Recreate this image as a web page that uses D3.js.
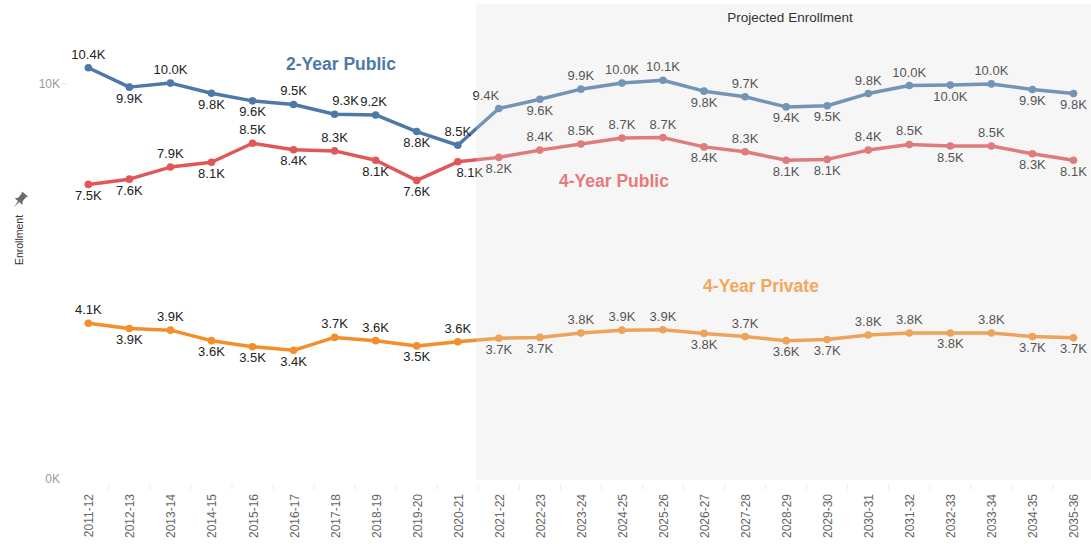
<!DOCTYPE html>
<html>
<head>
<meta charset="utf-8">
<script src="https://cdn.jsdelivr.net/npm/d3@7/dist/d3.min.js"></script>
<style>
  html, body { margin: 0; padding: 0; background: #ffffff; }
  svg { display: block; font-family: Arial, "Liberation Sans", sans-serif; }
</style>
</head>
<body>
<svg id="chart" width="1091" height="544"></svg>
<script>
// ---------- DATA ----------
const categories = ["2011-12","2012-13","2013-14","2014-15","2015-16","2016-17","2017-18","2018-19","2019-20","2020-21",
  "2021-22","2022-23","2023-24","2024-25","2025-26","2026-27","2027-28","2028-29","2029-30","2030-31",
  "2031-32","2032-33","2033-34","2034-35","2035-36"];
const firstProjected = "2021-22";

const twoYearPublic = [10400,9920,10020,9770,9580,9490,9250,9230,8820,8480,
  9390,9620,9870,10020,10090,9820,9680,9430,9460,9760,9960,9970,10000,9860,9760];
const fourYearPublic = [7510,7640,7940,8060,8530,8370,8340,8110,7610,8070,
  8180,8360,8510,8660,8670,8440,8320,8110,8130,8360,8500,8460,8460,8270,8110];
const fourYearPrivate = [4070,3940,3900,3640,3490,3400,3720,3640,3510,3610,
  3700,3720,3830,3900,3910,3820,3740,3640,3670,3780,3830,3830,3830,3740,3710];

// label placement: a = above the point, b = below
const twoYearPublicLabelPos = ["a","b","a","b","b","a","a","a","b","a",
  "a","b","a","a","a","b","a","b","b","a","a","b","a","b","b"];
const fourYearPublicLabelPos = ["b","b","a","b","a","b","a","b","b","b",
  "b","a","a","a","a","b","a","b","b","a","a","b","a","b","b"];
const fourYearPrivateLabelPos = ["a","b","a","b","b","b","a","a","b","a",
  "b","b","a","a","a","b","a","b","b","a","a","b","a","b","b"];
// sideways nudges of crowded labels (in label widths' share, index -> shift)
const twoYearPublicLabelShift = {6: 11, 7: -2, 10: -13};
const fourYearPublicLabelShift = {9: 12};
const fourYearPrivateLabelShift = {};

const yTickValues = [0, 10000];
const seriesNames = ["2-Year Public", "4-Year Public", "4-Year Private"];
const axisTitle = "Enrollment";
const bandTitle = "Projected Enrollment";

// ---------- LAYOUT ----------
const svg = d3.select("#chart");
const W = 1091, H = 544;
const x = d3.scaleBand().domain(categories).range([67.8, 1094]).padding(0);
const cx = d => x(d) + x.bandwidth() / 2;
const y = d3.scaleLinear().domain([0, 10000]).range([487.6, 83.9]);

const series = [
  { name: seriesNames[0], values: twoYearPublic, pos: twoYearPublicLabelPos, shift: twoYearPublicLabelShift, color: "#4e79a7",
    title: { x: 341, y: 64, color: "#4e79a7" } },
  { name: seriesNames[1], values: fourYearPublic, pos: fourYearPublicLabelPos, shift: fourYearPublicLabelShift, color: "#e15759",
    title: { x: 614, y: 181, color: "#e8797b" } },
  { name: seriesNames[2], values: fourYearPrivate, pos: fourYearPrivateLabelPos, shift: fourYearPrivateLabelShift, color: "#f28e2b",
    title: { x: 761, y: 286, color: "#f4a65c" } }
];

const fmt = v => (Math.round(v / 100) / 10).toFixed(1) + "K";

// ---------- AXES ----------
const yAxis = svg.append("g").attr("transform", "translate(60,0)")
  .call(d3.axisLeft(y).tickValues(yTickValues).tickSize(0).tickPadding(0).tickFormat(d => (d / 1000) + "K"));
yAxis.select(".domain").remove();
yAxis.selectAll("text").attr("fill", "#9a9a9a").style("font-size", "12px").attr("font-family", "Arial, 'Liberation Sans', sans-serif");
yAxis.selectAll(".tick").filter(d => d === 0).select("text").attr("dy", "-0.45em");

svg.append("g").selectAll("line").data(yTickValues.filter(d => d !== 0)).join("line")
  .attr("x1", 62).attr("x2", 67).attr("y1", d => y(d)).attr("y2", d => y(d))
  .attr("stroke", "#e2e2e2").attr("stroke-width", 1);

// axis title + pin icon
svg.append("text")
  .attr("transform", "translate(23,240) rotate(-90)")
  .attr("text-anchor", "middle")
  .attr("fill", "#333")
  .style("font-size", "10.5px")
  .text(axisTitle);
svg.append("path")
  .attr("transform", "translate(20,200) rotate(40) scale(1.3)")
  .attr("d", "M-3,-6 L3,-6 L2.2,-4.6 L2.2,-0.5 L4,1.6 L-4,1.6 L-2.2,-0.5 L-2.2,-4.6 Z M-0.6,1.6 L0.6,1.6 L0,7 Z")
  .attr("fill", "#6b6b6b");

// x axis: faint band separators and rotated labels
svg.append("g").selectAll("line").data(categories.slice(1)).join("line")
  .attr("x1", d => x(d)).attr("x2", d => x(d)).attr("y1", 484).attr("y2", 490)
  .attr("stroke", "#ececec").attr("stroke-width", 1);
svg.append("g").selectAll("text").data(categories).join("text")
  .attr("transform", d => `translate(${cx(d) + 5},494) rotate(-90)`)
  .attr("text-anchor", "end")
  .attr("fill", "#666")
  .style("font-size", "12px")
  .text(d => d);

// ---------- MARKS ----------
const line = d3.line().x((d, i) => cx(categories[i])).y(d => y(d));

series.forEach(s => {
  const g = svg.append("g");
  g.append("path").datum(s.values)
    .attr("d", line)
    .attr("fill", "none").attr("stroke", s.color)
    .attr("stroke-width", 3.5).attr("stroke-linejoin", "round").attr("stroke-linecap", "round");
  g.selectAll("circle").data(s.values).join("circle")
    .attr("cx", (d, i) => cx(categories[i])).attr("cy", d => y(d))
    .attr("r", 3.8).attr("fill", s.color);
  g.selectAll("text").data(s.values).join("text")
    .attr("x", (d, i) => cx(categories[i]) + (s.shift[i] || 0))
    .attr("y", (d, i) => y(d) + (s.pos[i] === "a" ? -13.5 : 11))
    .attr("dominant-baseline", "central")
    .attr("text-anchor", "middle")
    .attr("fill", "#222")
    .style("font-size", "13px")
    .text(d => fmt(d));
});

// projected-enrollment band (translucent overlay lightening everything behind it)
const bandX = x(firstProjected) - 2;
svg.append("rect")
  .attr("x", bandX).attr("y", 4)
  .attr("width", W - bandX).attr("height", 476)
  .attr("fill", "rgb(222,222,222)").attr("fill-opacity", 0.27);

svg.append("text")
  .attr("x", 790).attr("y", 17)
  .attr("text-anchor", "middle").attr("dominant-baseline", "central")
  .attr("fill", "#333").style("font-size", "13.5px")
  .text(bandTitle);

// series titles
series.forEach(s => {
  svg.append("text")
    .attr("x", s.title.x).attr("y", s.title.y)
    .attr("text-anchor", "middle").attr("dominant-baseline", "central")
    .attr("fill", s.title.color)
    .style("font-size", "17.5px").style("font-weight", "bold")
    .text(s.name);
});
</script>
</body>
</html>
